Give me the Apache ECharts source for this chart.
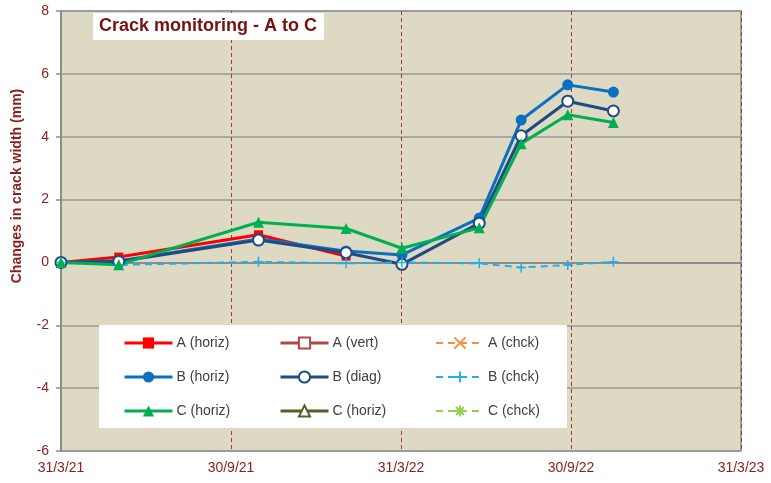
<!DOCTYPE html>
<html>
<head>
<meta charset="utf-8">
<script src="https://cdn.jsdelivr.net/npm/echarts@6/dist/echarts.min.js"></script>
<style>html,body{margin:0;padding:0;background:#fff}#c{width:771px;height:483px}</style>
</head>
<body>
<div id="c"></div>
<script>
// ---- data ----
const startDate = '2021-03-31';
const tickLabels = ['31/3/21', '30/9/21', '31/3/22', '30/9/22', '31/3/23'];
const dates = ['2021-03-31', '2021-06-01', '2021-10-29', '2022-01-31', '2022-04-01', '2022-06-23', '2022-08-07', '2022-09-26', '2022-11-14'];
const aHoriz = [0, 0.17, 0.88, 0.2];
const aVert = [];
const aChck = [];
const bHoriz = [0, 0.05, 0.75, 0.36, 0.24, 1.41, 4.53, 5.65, 5.42];
const bDiag = [0, 0.03, 0.71, 0.31, -0.06, 1.25, 4.03, 5.13, 4.82];
const bChck = [0, -0.08, 0.02, -0.03, 0, -0.03, -0.16, -0.08, 0.02];
const cHoriz = [0, -0.07, 1.28, 1.08, 0.45, 1.1, 3.78, 4.7, 4.45];
const cHoriz2 = [];
const cChck = [];

const DAY = 86400000;
function dayOffset(d) { return Math.round((Date.parse(d) - Date.parse(startDate)) / DAY); }
function pts(vals) { return vals.map((v, i) => [dayOffset(dates[i]), v]); }

const dark = '#8a1c1c';
const font = 'Liberation Sans, Arial, sans-serif';

function mk(name, data, color, symbol, opts) {
  opts = opts || {};
  return {
    name: name, type: 'line', data: pts(data),
    symbol: symbol, symbolSize: opts.size || 10,
    lineStyle: { color: color, width: opts.lw || 3, type: opts.dash ? [7, 5] : 'solid' },
    itemStyle: { color: opts.fill || color, borderColor: color, borderWidth: opts.bw || 0 },
    emphasis: { disabled: true },
    z: opts.z || 2
  };
}
const cross = 'path://M0,0L10,10M10,0L0,10';
const plus = 'path://M5,0L5,10M0,5L10,5';
const star = 'path://M5,0L5,10M0,5L10,5M1.5,1.5L8.5,8.5M8.5,1.5L1.5,8.5';

const series = [
  mk('A (horiz)', aHoriz, '#ff0000', 'rect', { size: 9 }),
  mk('A (vert)', aVert, '#b04848', 'rect', { size: 9, fill: '#ffffff', bw: 1.5 }),
  mk('A (chck)', aChck, '#f39040', cross, { dash: true, lw: 1.5, size: 9, fill: 'rgba(0,0,0,0)', bw: 1.5 }),
  mk('B (horiz)', bHoriz, '#0b70c0', 'circle', { size: 11 }),
  mk('B (diag)', bDiag, '#1f4b82', 'circle', { size: 11, fill: '#ffffff', bw: 2 }),
  mk('B (chck)', bChck, '#22aee8', plus, { dash: true, lw: 2, size: 10, fill: 'rgba(0,0,0,0)', bw: 1.5 }),
  mk('C (horiz)', cHoriz, '#00b050', 'triangle', { size: 11 }),
  mk('C (horiz) ', cHoriz2, '#4f6228', 'triangle', { size: 10, fill: '#ffffff', bw: 1.5 }),
  mk('C (chck)', cChck, '#92d050', star, { dash: true, lw: 1.5, size: 10, fill: 'rgba(0,0,0,0)', bw: 1.5 })
];

function legendCol(names, left, lw) {
  return {
    orient: 'vertical', left: left, top: 336, padding: 0,
    itemWidth: 48, itemHeight: 14, itemGap: 20,
    data: names, z: 10, selectedMode: false,
    lineStyle: { width: lw },
    formatter: n => n.trim(),
    textStyle: { color: '#404040', fontSize: 14, fontFamily: font, padding: [0, 0, 0, -1] }
  };
}

const chart = echarts.init(document.getElementById('c'));
chart.setOption({
  animation: false,
  backgroundColor: '#ffffff',
  textStyle: { fontFamily: font },
  title: {
    text: 'Crack monitoring - A to C', left: 93, top: 13,
    padding: [3, 7, 3, 6], backgroundColor: '#ffffff',
    textStyle: { color: '#7a0f0f', fontSize: 18, fontWeight: 'bold', fontFamily: font, lineHeight: 21 }
  },
  grid: {
    left: 61, right: 30, top: 11, bottom: 32, show: true,
    backgroundColor: '#ddd9c3', borderColor: '#8c8c8c', borderWidth: 1.5
  },
  xAxis: {
    type: 'value', min: 0, max: 730, interval: 182.5,
    axisLine: { lineStyle: { color: '#8c8c8c', width: 2 } },
    axisTick: { show: false },
    axisLabel: {
      color: dark, fontSize: 14, margin: 10, fontFamily: font,
      formatter: v => tickLabels[Math.round(v / 182.5)]
    },
    splitLine: { show: true, lineStyle: { color: '#a33a3a', width: 1, type: [4, 3] } }
  },
  yAxis: {
    type: 'value', min: -6, max: 8, interval: 2,
    axisLine: { show: true, lineStyle: { color: '#8c8c8c', width: 2 } },
    axisTick: { show: true, length: 5, lineStyle: { color: '#8c8c8c', width: 1.5 } },
    axisLabel: { color: dark, fontSize: 14, margin: 12, fontFamily: font },
    splitLine: { show: true, lineStyle: { color: '#999999', width: 1.5 } }
  },
  graphic: [
    { type: 'rect', shape: { x: 99, y: 325, width: 468, height: 103 }, style: { fill: '#ffffff' }, z: 5 },
    {
      type: 'text', x: 17, y: 186, rotation: Math.PI / 2, z: 5,
      style: {
        text: 'Changes in crack width (mm)', fill: dark, font: 'bold 14px ' + font,
        align: 'center', verticalAlign: 'middle'
      }
    }
  ],
  legend: [
    legendCol(['A (horiz)', 'B (horiz)', 'C (horiz)'], 123, 3),
    legendCol(['A (vert)', 'B (diag)', 'C (horiz) '], 279, 3),
    legendCol(['A (chck)', 'B (chck)', 'C (chck)'], 435, 1.8)
  ],
  series: series
});
</script>
</body>
</html>
